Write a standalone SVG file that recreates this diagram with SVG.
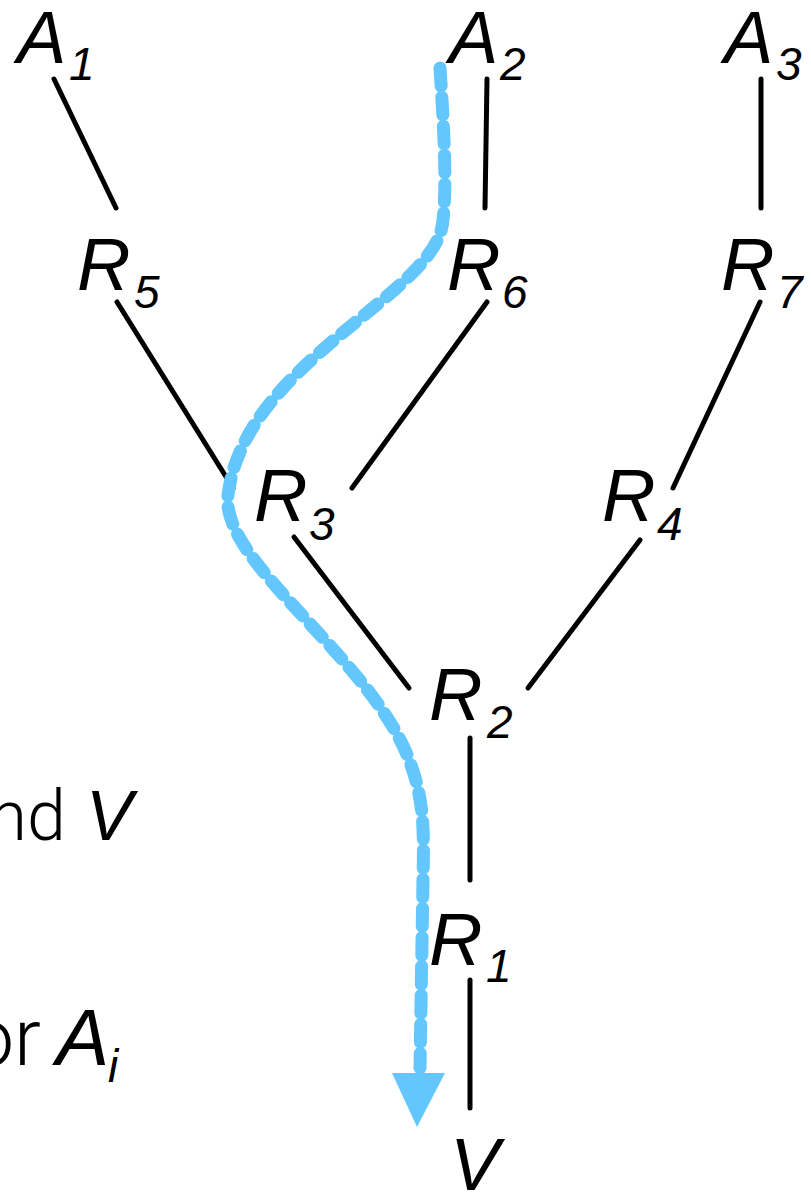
<svg xmlns="http://www.w3.org/2000/svg" width="811" height="1192" viewBox="0 0 811 1192">
  <style>
    .lbl { font-family: "Liberation Sans", Arial, sans-serif; font-style: italic; fill: #000; }
    .big { font-size: 74px; }
    .sub { font-size: 46px; }
    .light { font-family: Roboto, "Liberation Sans", sans-serif; font-weight: 300; fill: #000; }
    .edge { stroke: #000; stroke-width: 5; stroke-linecap: round; fill: none; }
    .path { stroke: #63C7FD; stroke-width: 13; stroke-linecap: round; stroke-dasharray: 18 11; fill: none; }
  </style>
  <rect width="811" height="1192" fill="#fff"/>

  <g id="connectors">
    <line class="edge" x1="54" y1="79" x2="116" y2="208"/>
    <line class="edge" x1="487" y1="79" x2="485" y2="208"/>
    <line class="edge" x1="761" y1="79" x2="761" y2="208"/>
    <line class="edge" x1="117" y1="302" x2="233" y2="488"/>
    <line class="edge" x1="487" y1="302" x2="352" y2="488"/>
    <line class="edge" x1="760" y1="302" x2="673" y2="488"/>
    <line class="edge" x1="294" y1="537" x2="409" y2="688"/>
    <line class="edge" x1="640" y1="540" x2="528" y2="688"/>
    <line class="edge" x1="470" y1="738" x2="470" y2="880"/>
    <line class="edge" x1="470" y1="980" x2="470" y2="1108"/>
  </g>

  <g id="flow">
    <path class="path" d="M440,68 C444,130 447,185 443,220 C438,295 245,360 228,495 C220,560 360,650 405,750 C425,795 424,830 423,880 L420,1068"/>
    <polygon points="392,1073 445,1073 417,1127" fill="#63C7FD"/>
  </g>

  <g id="A1"><text class="lbl big" x="17" y="63">A</text><text class="lbl sub" x="69" y="80">1</text></g>
  <g id="A2"><text class="lbl big" x="449" y="63">A</text><text class="lbl sub" x="500" y="80">2</text></g>
  <g id="A3"><text class="lbl big" x="724" y="63">A</text><text class="lbl sub" x="776" y="80">3</text></g>

  <g id="R5"><text class="lbl big" x="77" y="290">R</text><text class="lbl sub" x="134" y="308">5</text></g>
  <g id="R6"><text class="lbl big" x="447" y="290">R</text><text class="lbl sub" x="502" y="308">6</text></g>
  <g id="R7"><text class="lbl big" x="721" y="290">R</text><text class="lbl sub" x="777" y="308">7</text></g>

  <g id="R3"><text class="lbl big" x="254" y="521">R</text><text class="lbl sub" x="309" y="540">3</text></g>
  <g id="R4"><text class="lbl big" x="602" y="521">R</text><text class="lbl sub" x="657" y="540">4</text></g>

  <g id="R2"><text class="lbl big" x="429" y="720">R</text><text class="lbl sub" x="487" y="738">2</text></g>
  <g id="R1"><text class="lbl big" x="429" y="965">R</text><text class="lbl sub" x="486" y="982">1</text></g>

  <g id="V"><text class="lbl big" x="450" y="1190">V</text></g>

  <g id="caption1">
    <text class="light" font-size="70" x="66" y="840" text-anchor="end">nd</text>
    <text class="lbl" font-size="70" x="86" y="840">V</text>
  </g>
  <g id="caption2">
    <text class="light" font-size="80" x="41" y="1065" text-anchor="end">or</text>
    <text class="lbl" font-size="80" x="56" y="1065">A</text>
    <text class="lbl" font-size="46" x="108" y="1082">i</text>
  </g>
</svg>
